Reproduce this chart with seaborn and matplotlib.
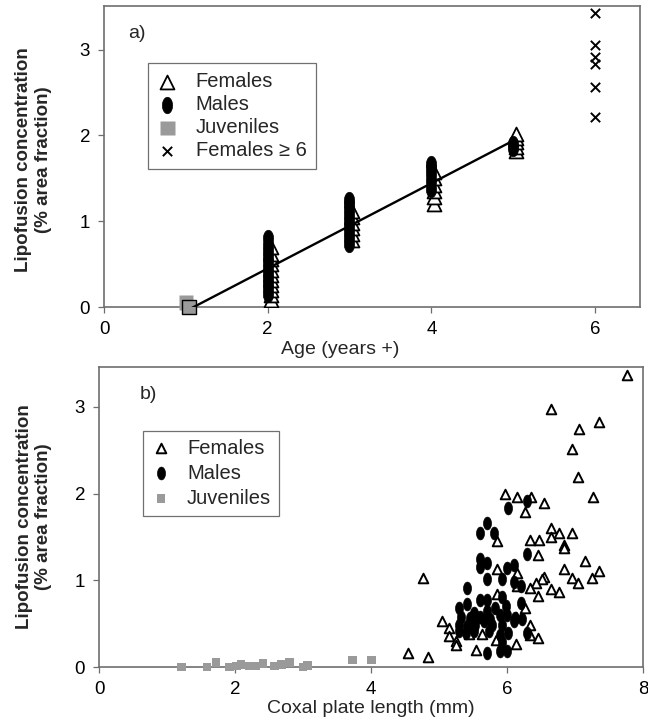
import numpy as np
import matplotlib
matplotlib.use("Agg")
import matplotlib.pyplot as plt
from matplotlib.path import Path
import seaborn as sns

# ---------------- data: panel a (age vs lipofuscin) ----------------
a_fem_age = [2, 2, 2, 2, 2, 2, 2, 2, 2, 2, 2,
             3, 3, 3, 3, 3, 3,
             4, 4, 4, 4, 4, 4,
             5, 5, 5, 5, 5]
a_fem_val = [0.08, 0.14, 0.20, 0.26, 0.31, 0.37, 0.43, 0.50, 0.56, 0.62, 0.70,
             0.78, 0.85, 0.92, 0.98, 1.05, 1.12,
             1.20, 1.28, 1.35, 1.42, 1.50, 1.58,
             1.82, 1.87, 1.92, 1.97, 2.02]
a_male_age = [2, 2, 2, 2, 2, 2, 2, 2, 2, 2, 2,
              3, 3, 3, 3, 3, 3, 3, 3, 3,
              4, 4, 4, 4, 4,
              5, 5]
a_male_val = [0.15, 0.22, 0.28, 0.34, 0.40, 0.46, 0.52, 0.58, 0.65, 0.72, 0.80,
              0.74, 0.80, 0.87, 0.94, 1.00, 1.07, 1.14, 1.20, 1.25,
              1.38, 1.47, 1.55, 1.62, 1.67,
              1.85, 1.90]
a_juv_age = [1, 1]
a_juv_val = [0.05, 0.0]
a_old_age = [6, 6, 6, 6, 6, 6]
a_old_val = [3.43, 3.06, 2.91, 2.83, 2.56, 2.22]

# ---------------- data: panel b (coxal plate length vs lipofuscin) ----------------
b_fem_x = [7.76, 6.65, 7.35, 7.06, 6.96, 7.05, 7.26, 5.97, 6.14, 6.35, 6.55, 6.26,
           5.85, 6.64, 6.76, 6.95, 6.64, 6.34, 6.47, 6.84, 6.84, 6.46, 7.14, 5.85,
           6.15, 6.84, 7.35, 6.95, 7.25, 7.05, 4.76, 6.55, 6.51, 6.42, 6.34, 6.64,
           6.76, 6.46, 5.85, 6.15, 6.26, 6.13, 6.34, 6.46, 6.13, 5.84, 5.63, 5.55,
           5.04, 5.14, 5.14, 5.25, 5.25, 5.44, 4.55, 4.84, 6.34]
b_fem_y = [3.37, 2.97, 2.82, 2.74, 2.51, 2.19, 1.96, 2.00, 1.96, 1.96, 1.89, 1.79,
           1.45, 1.60, 1.54, 1.54, 1.50, 1.47, 1.47, 1.41, 1.37, 1.29, 1.22, 1.13,
           1.08, 1.13, 1.11, 1.03, 1.03, 0.97, 1.03, 1.04, 1.01, 0.97, 0.91, 0.90,
           0.86, 0.82, 0.84, 0.93, 0.68, 0.58, 0.48, 0.33, 0.27, 0.31, 0.38, 0.20,
           0.53, 0.45, 0.36, 0.30, 0.25, 0.38, 0.16, 0.12, 0.37]
b_male_x = [5.71, 5.60, 5.81, 6.01, 6.30, 6.29, 5.60, 5.71, 5.60, 5.71, 6.00, 6.10,
            5.92, 6.10, 6.21, 5.41, 5.41, 5.60, 5.71, 5.92, 5.29, 5.51, 5.71, 5.83,
            5.98, 6.21, 5.32, 5.46, 5.61, 5.75, 5.90, 6.00, 6.12, 6.22, 5.29, 5.41,
            5.53, 5.66, 5.78, 5.93, 6.10, 5.39, 5.51, 5.73, 5.90, 6.02, 6.29, 5.29,
            5.92, 5.90, 6.00, 5.71]
b_male_y = [1.66, 1.55, 1.55, 1.83, 1.91, 1.30, 1.25, 1.20, 1.15, 1.02, 1.14, 1.18,
            1.02, 0.98, 0.93, 0.91, 0.73, 0.77, 0.77, 0.81, 0.68, 0.62, 0.65, 0.68,
            0.70, 0.74, 0.58, 0.56, 0.58, 0.55, 0.60, 0.60, 0.56, 0.55, 0.49, 0.47,
            0.49, 0.53, 0.49, 0.49, 0.53, 0.39, 0.41, 0.41, 0.37, 0.39, 0.39, 0.41,
            0.29, 0.18, 0.19, 0.16]
b_juv_x = [1.21, 1.59, 1.72, 1.92, 2.02, 2.09, 2.21, 2.31, 2.41, 2.58, 2.68, 2.80,
           3.00, 3.07, 3.73, 4.01]
b_juv_y = [0.00, 0.00, 0.05, 0.00, 0.01, 0.03, 0.01, 0.01, 0.04, 0.01, 0.03, 0.05,
           0.00, 0.02, 0.08, 0.08]

labels = ["Females", "Males", "Juveniles", "Females \u2265 6"]
a_xticks = [0, 2, 4, 6]
a_yticks = [0, 1, 2, 3]
b_xticks = [0, 2, 4, 6, 8]
b_yticks = [0, 1, 2, 3]
ylabel = "Lipofusion concentration\n(% area fraction)"

# ---------------- style ----------------
sns.set_theme(style="ticks")
plt.rcParams["font.family"] = ["Liberation Sans", "DejaVu Sans"]

spine_col = "#6e6e6e"
juv_col = "#9a9a9a"

theta = np.linspace(0, 2 * np.pi, 48)
ellipse = Path(np.column_stack([0.62 * np.cos(theta), np.sin(theta)]), closed=True)

fig = plt.figure(figsize=(6.48, 7.23), dpi=100)
ax1 = fig.add_axes([104 / 648, 1 - 307 / 723, 536 / 648, 301 / 723])
ax2 = fig.add_axes([99 / 648, 1 - 667 / 723, 544 / 648, 300 / 723])

# ---------------- panel a ----------------
fit_x = a_juv_age + a_fem_age + a_male_age
fit_y = a_juv_val + a_fem_val + a_male_val
sns.regplot(x=np.array(fit_x, float), y=np.array(fit_y, float), scatter=False, ci=None,
            color="black", line_kws={"lw": 1.7, "zorder": 4}, ax=ax1)

sns.scatterplot(x=np.array(a_fem_age) + 0.035, y=a_fem_val, marker="^", s=100,
                color="white", edgecolor="black", linewidth=1.3, ax=ax1,
                label=labels[0], zorder=3)
sns.scatterplot(x=a_male_age, y=a_male_val, marker=ellipse, s=140,
                color="black", edgecolor="black", linewidth=0.5, ax=ax1,
                label=labels[1], zorder=3)
sns.scatterplot(x=np.array(a_juv_age) + np.array([0.0, 0.04]), y=a_juv_val, marker="s", s=110,
                color=juv_col, edgecolor=["none", "black"], linewidth=1.0, ax=ax1,
                label=labels[2], zorder=3, clip_on=False)
sns.scatterplot(x=a_old_age, y=a_old_val, marker="x", s=45,
                color="black", linewidth=1.4, ax=ax1, label=labels[3], zorder=3)

ax1.set_xlim(0, 6.55)
ax1.set_ylim(0, 3.51)
ax1.set_xticks(a_xticks)
ax1.set_yticks(a_yticks)
ax1.set_xlabel("Age (years +)", fontsize=14)
ax1.xaxis.set_label_coords(0.44, -0.112)
ax1.set_ylabel(ylabel, fontsize=13.5, fontweight="bold", linespacing=1.2)
ax1.yaxis.set_label_coords(-0.097, 0.49)
ax1.text(0.061, 0.909, "a)", transform=ax1.transAxes, fontsize=14,
         ha="center", va="center")

leg1 = ax1.legend(loc="upper left", bbox_to_anchor=(0.0827, 0.81), borderaxespad=0,
                  fontsize=14.5, frameon=True, fancybox=False, edgecolor="#707070",
                  framealpha=1, labelspacing=0.2, handlelength=1.0, handletextpad=0.9,
                  borderpad=0.45)
leg1.get_frame().set_linewidth(0.9)

# ---------------- panel b ----------------
sns.scatterplot(x=b_fem_x, y=b_fem_y, marker="^", s=48, color="white",
                edgecolor="black", linewidth=1.4, ax=ax2, label=labels[0], zorder=3)
sns.scatterplot(x=b_male_x, y=b_male_y, marker=ellipse, s=85, color="black",
                edgecolor="black", linewidth=0.5, ax=ax2, label=labels[1], zorder=3)
sns.scatterplot(x=b_juv_x, y=b_juv_y, marker="s", s=38, color=juv_col,
                edgecolor="none", linewidth=0, ax=ax2, label=labels[2], zorder=3,
                clip_on=False)

ax2.set_xlim(0, 8)
ax2.set_ylim(0, 3.46)
ax2.set_xticks(b_xticks)
ax2.set_yticks(b_yticks)
ax2.set_xlabel("Coxal plate length (mm)", fontsize=14)
ax2.xaxis.set_label_coords(0.5, -0.11)
ax2.set_ylabel(ylabel, fontsize=13.5, fontweight="bold", linespacing=1.2)
ax2.yaxis.set_label_coords(-0.086, 0.5)
ax2.text(0.091, 0.907, "b)", transform=ax2.transAxes, fontsize=14,
         ha="center", va="center")

leg2 = ax2.legend(loc="upper left", bbox_to_anchor=(0.0805, 0.788), borderaxespad=0,
                  fontsize=14.5, frameon=True, fancybox=False, edgecolor="#707070",
                  framealpha=1, labelspacing=0.3, handlelength=1.0, handletextpad=0.8,
                  borderpad=0.4)
leg2.get_frame().set_linewidth(0.9)

for ax in (ax1, ax2):
    for sp in ax.spines.values():
        sp.set_visible(True)
        sp.set_color(spine_col)
        sp.set_linewidth(1.2)
    ax.tick_params(axis="both", direction="out", length=4, width=0.9,
                   color=spine_col, labelsize=13.5, pad=6, labelcolor="black")
    ax.grid(False)

fig.savefig("out.png", dpi=100)
